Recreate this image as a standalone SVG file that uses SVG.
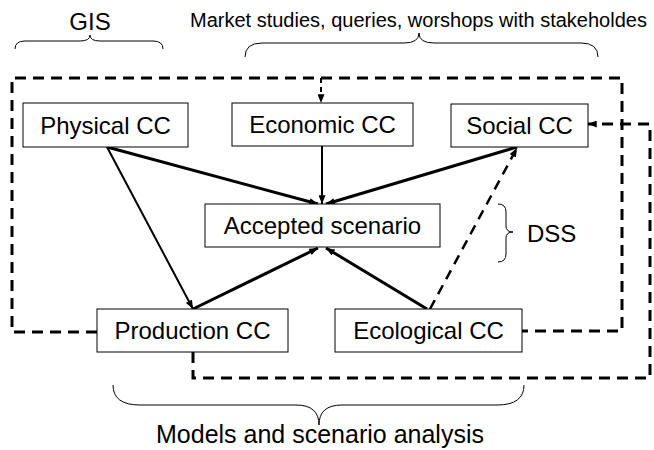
<svg xmlns="http://www.w3.org/2000/svg" width="654" height="450" viewBox="0 0 654 450">
<defs>
<style>
.box{fill:#fff;stroke:#000;stroke-width:1}
.lbl{font-family:"Liberation Sans",Arial,sans-serif;font-size:24px;fill:#000;text-anchor:middle}
.ann{font-family:"Liberation Sans",Arial,sans-serif;fill:#000}
.s3{fill:none;stroke:#000;stroke-width:3}
.s2{fill:none;stroke:#000;stroke-width:2}
.d3{fill:none;stroke:#000;stroke-width:3;stroke-dasharray:11 7}
.d2{fill:none;stroke:#000;stroke-width:2;stroke-dasharray:5 4}
.br{fill:none;stroke:#000;stroke-width:1}
</style>
<marker id="ah" viewBox="0 0 10 8" refX="10" refY="4" markerWidth="9" markerHeight="7" markerUnits="userSpaceOnUse" orient="auto">
<path d="M0,0 L10,4 L0,8 z" fill="#000"/>
</marker>
</defs>
<g id="connectors">
<path class="d3" d="M97,332 H12 V78 H622 V331 H522"/>
<path class="d2" d="M321,78 V103" marker-end="url(#ah)"/>
<path class="d3" d="M193,352 V378 H650 V124 H588" marker-end="url(#ah)"/>
<line class="s3" x1="107" y1="147" x2="318" y2="204" marker-end="url(#ah)"/>
<line class="s2" x1="322" y1="146" x2="322" y2="204" marker-end="url(#ah)"/>
<line class="s3" x1="517" y1="147" x2="326" y2="204" marker-end="url(#ah)"/>
<line class="s2" x1="107" y1="147" x2="193" y2="309" marker-end="url(#ah)"/>
<line class="s3" x1="193" y1="309" x2="318" y2="248" marker-end="url(#ah)"/>
<line class="s3" x1="427" y1="309" x2="326" y2="248" marker-end="url(#ah)"/>
<line class="d2" x1="430" y1="309" x2="517" y2="148" style="stroke-dasharray:10 7;stroke-width:2.5" marker-end="url(#ah)"/>
</g>
<g id="physical"><rect class="box" x="23" y="103" width="165" height="44"/><text class="lbl" x="105.5" y="133.5">Physical CC</text></g>
<g id="economic"><rect class="box" x="232" y="103" width="181" height="43"/><text class="lbl" x="322.5" y="133">Economic CC</text></g>
<g id="social"><rect class="box" x="451" y="104" width="137" height="43"/><text class="lbl" x="519.5" y="134">Social CC</text></g>
<g id="accepted"><rect class="box" x="205" y="204" width="235" height="43"/><text class="lbl" x="322.5" y="234">Accepted scenario</text></g>
<g id="production"><rect class="box" x="97" y="309" width="191" height="43"/><text class="lbl" x="192.5" y="339">Production CC</text></g>
<g id="ecological"><rect class="box" x="335" y="309" width="187" height="43"/><text class="lbl" x="428.5" y="339">Ecological CC</text></g>
<g id="annotations">
<text class="ann" x="90" y="30" font-size="24" text-anchor="middle">GIS</text>
<path class="br" d="M15,49 Q15,41 25,41 H80 Q90,41 90,35 Q90,41 100,41 H153 Q163,41 163,49"/>
<text class="ann" x="190" y="27" font-size="20">Market studies, queries, worshops with stakeholdes</text>
<path class="br" d="M245,57 Q245,43 262,43 H404 Q419,43 419,33 Q419,43 434,43 H581 Q598,43 598,57"/>
<path class="br" d="M498,204 Q506,204 506,212 V226 Q506,232 513,232 Q506,232 506,238 V254 Q506,262 498,262"/>
<text class="ann" x="527" y="242" font-size="24">DSS</text>
<path class="br" d="M113,385 Q113,405 140,405 H296 Q319,405 319,425 Q319,405 342,405 H497 Q524,405 524,385"/>
<text class="ann" x="320" y="443" font-size="25" text-anchor="middle">Models and scenario analysis</text>
</g>
</svg>
